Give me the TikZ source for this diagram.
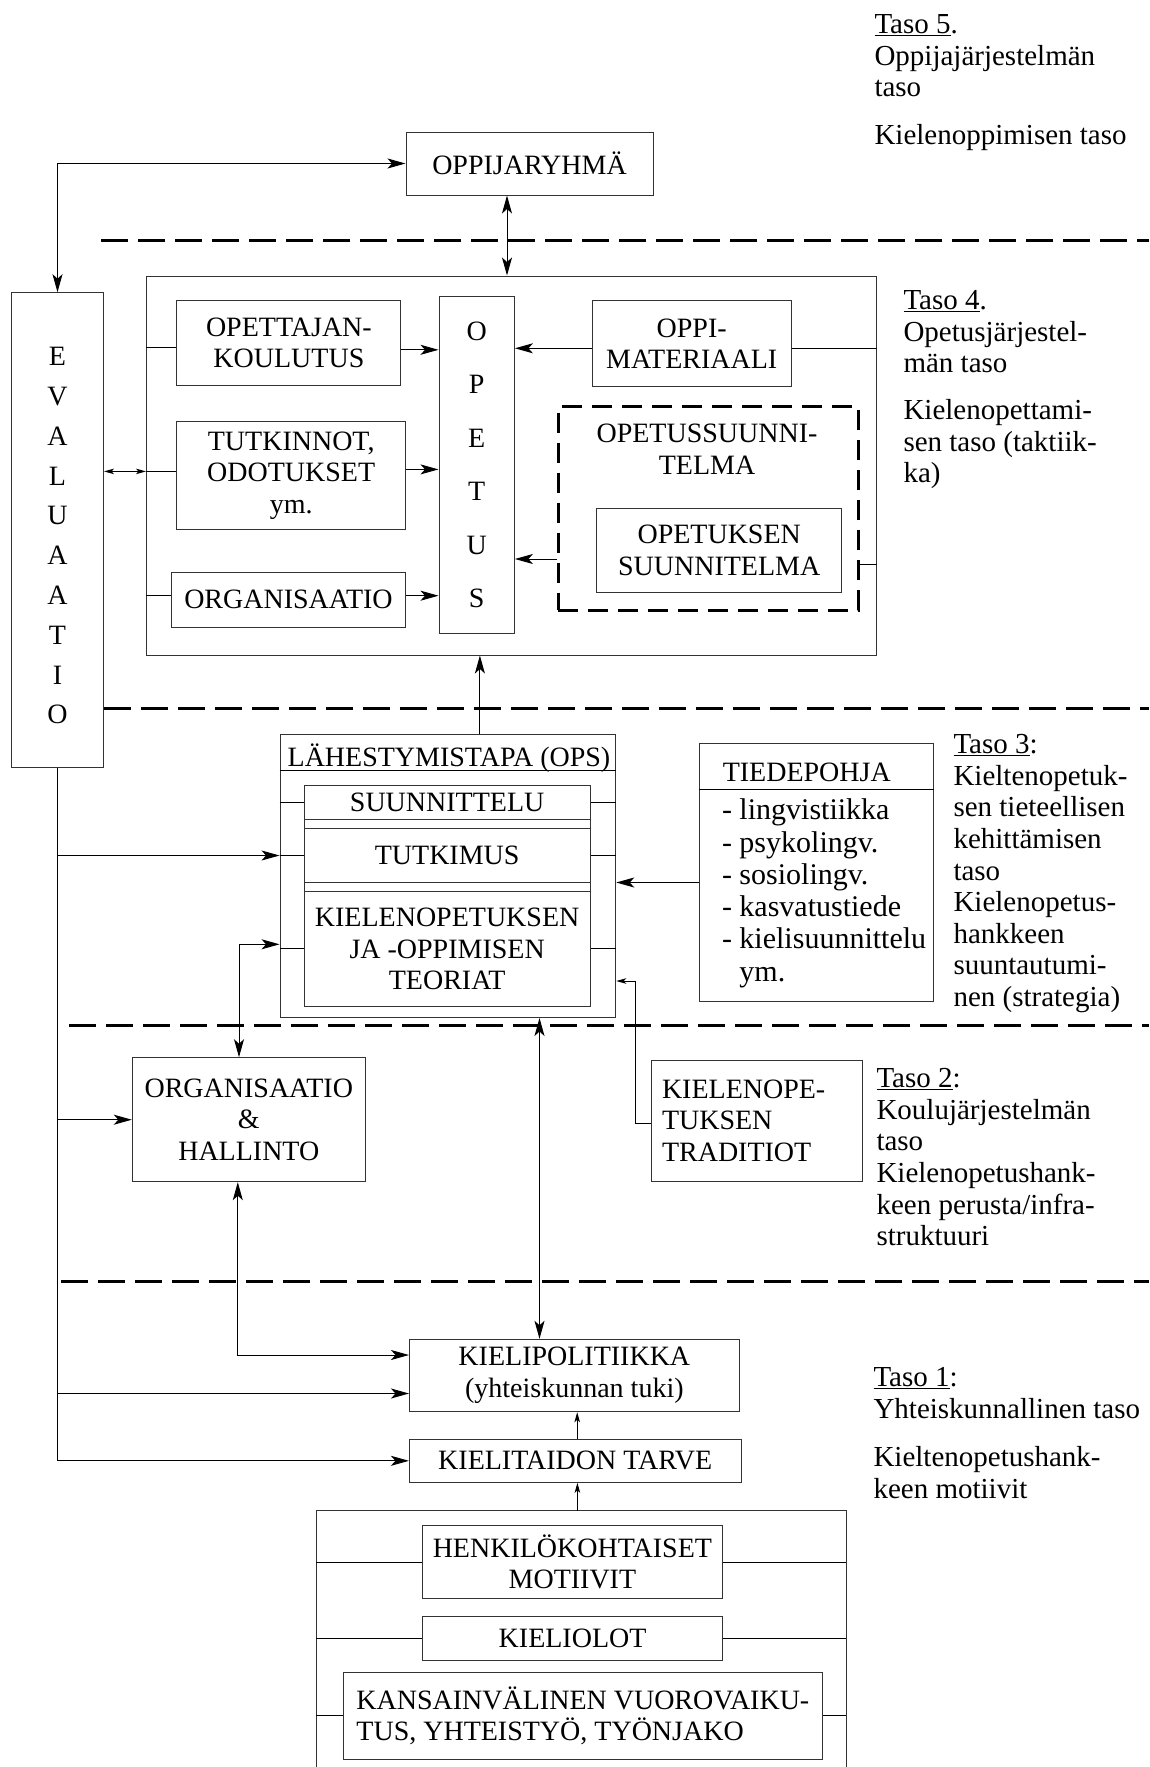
\documentclass[tikz,border=0pt]{standalone}
\usepackage{fontspec}
\setmainfont{Liberation Serif}
\usetikzlibrary{arrows.meta}
\tikzset{>={Stealth[length=18pt,width=10pt,inset=4.5pt]}}
\tikzset{
  box/.style={draw=black!80, align=center, inner sep=0pt},
  dashbox/.style={draw=black, line width=3pt, dash pattern=on 20pt off 10pt, inner sep=0pt},
  small tip/.style={>={Stealth[length=10pt,width=5.5pt,inset=2.5pt]}},
  layer/.style={line width=3pt, dash pattern=on 27pt off 10pt},
  tasotext/.style={anchor=north west, align=left, inner sep=0pt, font=\fontsize{29pt}{31.6pt}\selectfont}
}

\begin{document}
\begin{tikzpicture}[x=1pt, y=-1pt, line width=1pt, font=\fontsize{28pt}{31.6pt}\selectfont]
\useasboundingbox (0,0) rectangle (1149,1767);

% level separators
\foreach \xa/\ya in {101/240, 103.5/708.5, 69/1025, 61/1281}
  \draw[layer] (\xa,\ya) -- (1149,\ya);

% taso 5
\node[box, minimum width=247pt, minimum height=63pt] (ryhma) at (529.5,163.5) {OPPIJARYHMÄ};
\node[box, minimum width=92pt, minimum height=475pt] (eval) at (57.5,530.2) {};
\node[align=center, inner sep=0pt, font=\fontsize{28pt}{39.8pt}\selectfont] (evaltext) at ([yshift=-5.6pt]eval.center) {E\\V\\A\\L\\U\\A\\A\\T\\I\\O};

% taso 4
\node[box, minimum width=729.5pt, minimum height=379pt] (taso4box) at (511.25,465.5) {};
\node[box, minimum width=224pt, minimum height=85pt] (koulutus) at (288.9,342.8) {OPETTAJAN-\\KOULUTUS};
\node[box, minimum width=228.7pt, minimum height=108pt] (tutkinnot) at (291.2,475.4) {TUTKINNOT,\\ODOTUKSET\\ym.};
\node[box, minimum width=234.3pt, minimum height=55.3pt] (organ) at (288.5,599.7) {ORGANISAATIO};
\node[box, minimum width=75.4pt, minimum height=336.6pt, font=\fontsize{28pt}{53.5pt}\selectfont] (opetus) at (476.7,465) {O\\P\\E\\T\\U\\S};
\node[box, minimum width=198.7pt, minimum height=86pt] (materiaali) at (691.7,343.7) {OPPI-\\MATERIAALI};
\node[dashbox, minimum width=300.4pt, minimum height=203.3pt] (ops) at (708.2,508.4) {};
\node[align=center, inner sep=0pt] (opstitle) at (707,449) {OPETUSSUUNNI-\\TELMA};
\node[box, minimum width=245.5pt, minimum height=84.4pt] (opsuunn) at (719.2,550.5) {OPETUKSEN\\SUUNNITELMA};

% taso 3
\node[box, minimum width=335.7pt, minimum height=283.5pt] (lahest) at (447.9,875.75) {};
\node[anchor=base, inner sep=0pt] (lahtitle) at (449,766) {LÄHESTYMISTAPA (OPS)};
\draw ([yshift=-37pt]lahest.north west) -- ([yshift=-37pt]lahest.north east);
\node[box, minimum width=285.7pt, minimum height=221.2pt] (lahinner) at (447.15,895.9) {};
\node[box, minimum width=285.7pt, minimum height=34pt] (suunn) at (447.15,802.3) {SUUNNITTELU};
\node[box, minimum width=285.7pt, minimum height=53.6pt] (tutkimus) at (447.15,855.5) {TUTKIMUS};
\node[box, minimum width=285.7pt, minimum height=115.2pt] (teoriat) at (447.15,948.9) {KIELENOPETUKSEN\\JA -OPPIMISEN\\TEORIAT};

\node[box, minimum width=233.6pt, minimum height=257.7pt] (tiede) at (816.2,872.2) {};
\node[anchor=base west, inner sep=0pt] (tiedetitle) at (722.3,781.7) {TIEDEPOHJA};
\draw ([yshift=-46.7pt]tiede.north west) -- ([yshift=-46.7pt]tiede.north east);
\node[tasotext, font=\fontsize{30pt}{32.3pt}\selectfont] (tiedelist) at (721.5,798.4)
  {- lingvistiikka\\- psykolingv.\\- sosiolingv.\\- kasvatustiede\\- kielisuunnittelu\\\phantom{- }ym.};

% taso 2
\node[box, minimum width=233pt, minimum height=124pt] (orghal) at (248.8,1119.7) {ORGANISAATIO\\\&\\HALLINTO};
\node[box, text width=190pt, align=left, inner xsep=10.7pt, minimum height=121.7pt] (traditiot) at (757,1120.85) {KIELENOPE-\\TUKSEN\\TRADITIOT};

% taso 1
\node[box, minimum width=329.7pt, minimum height=72.4pt] (kielipol) at (574.35,1375.5) {KIELIPOLITIIKKA\\(yhteiskunnan tuki)};
\node[box, minimum width=331.6pt, minimum height=43pt] (tarve) at (575.2,1460.8) {KIELITAIDON TARVE};
\coordinate (motnw) at (316.4,1510.7);
\coordinate (motne) at (846.4,1510.7);
\coordinate (mottop) at (577.4,1510.7);
\draw[black!80] (316.4,1767) -- (motnw) -- (motne) -- (846.4,1767);
\node[box, minimum width=300.8pt, minimum height=72.6pt] (henk) at (572.4,1562) {HENKILÖKOHTAISET\\MOTIIVIT};
\node[box, minimum width=300.4pt, minimum height=44pt] (kieliolot) at (572.6,1638.7) {KIELIOLOT};
\node[box, align=left, minimum width=479.6pt, minimum height=86.3pt] (kansainv) at (582.9,1715.9) {KANSAINVÄLINEN VUOROVAIKU-\\TUS, YHTEISTYÖ, TYÖNJAKO};

% level texts
\node[tasotext] (t5a) at (874,14) {\underline{Taso 5}.\\Oppijajärjestelmän\\taso};
\node[tasotext] (t5b) at (874,124) {Kielenoppimisen taso};
\node[tasotext] (t4a) at (903,290) {\underline{Taso 4}.\\Opetusjärjestel-\\män taso};
\node[tasotext] (t4b) at (903,399) {Kielenopettami-\\sen taso (taktiik-\\ka)};
\node[tasotext] (t3) at (953,734) {\underline{Taso 3}:\\Kieltenopetuk-\\sen tieteellisen\\kehittämisen\\taso\\Kielenopetus-\\hankkeen\\suuntautumi-\\nen (strategia)};
\node[tasotext] (t2) at (876,1068) {\underline{Taso 2}:\\Koulujärjestelmän\\taso\\Kielenopetushank-\\keen perusta/infra-\\struktuuri};
\node[tasotext] (t1a) at (873,1367) {\underline{Taso 1}:\\Yhteiskunnallinen taso};
\node[tasotext] (t1b) at (873,1446) {Kieltenopetushank-\\keen motiivit};

% connectors, taso 5 and 4
\draw[<->] (eval.north) |- (ryhma.west);
\path ([xshift=-22.5pt]ryhma.south) coordinate (r1);
\draw[<->] (r1) -- (r1 |- taso4box.north);
\path ([yshift=4pt]tutkinnot.west) coordinate (t1);
\draw[<->, small tip] (eval.east |- t1) -- (t1 -| taso4box.west);
\draw (t1 -| taso4box.west) -- (t1);
\path ([yshift=6pt]tutkinnot.east) coordinate (t2);
\draw[->] (t2) -- (t2 -| opetus.west);
\path ([yshift=-4.5pt]koulutus.west) coordinate (k1);
\draw (k1 -| taso4box.west) -- (k1);
\path ([yshift=-7pt]koulutus.east) coordinate (k2);
\draw[->] (k2) -- (k2 -| opetus.west);
\path ([yshift=4pt]organ.west) coordinate (o1);
\draw (o1 -| taso4box.west) -- (o1);
\path ([yshift=4pt]organ.east) coordinate (o2);
\draw[->] (o2) -- (o2 -| opetus.west);
\path ([yshift=-4.6pt]materiaali.west) coordinate (m1);
\draw[->] (m1) -- (m1 -| opetus.east);
\draw (m1 -| materiaali.east) -- (m1 -| taso4box.east);
\path ([yshift=-8.5pt]opsuunn.west) coordinate (p1);
\draw[->] (p1 -| ops.west) -- (p1 -| opetus.east);
\path ([yshift=-13.5pt]opsuunn.east) coordinate (p2);
\draw (p2 -| ops.east) -- (p2 -| taso4box.east);

% connectors, taso 3
\path ([xshift=32pt]lahest.north) coordinate (l1);
\draw[->] (l1) -- (l1 |- taso4box.south);
\foreach \row in {suunn, tutkimus, teoriat} {
  \draw (lahest.west |- \row.west) -- (\row.west);
  \draw (\row.east) -- (lahest.east |- \row.east);
}
\path ([yshift=-10.3pt]tiede.west) coordinate (ti1);
\draw[->] (ti1) -- (ti1 -| lahest.east);
\path ([yshift=-3pt]traditiot.west) coordinate (tr1);
\path ([yshift=-105.25pt]lahest.east) coordinate (tr2);
\draw[->, small tip] (tr1) -- ++(-15pt,0) |- (tr2);

% evaluaatio line
\draw[->] (eval.south) |- (tarve.west);
\draw[->] (eval.south |- tutkimus.west) -- (lahest.west |- tutkimus.west);
\draw[->] (eval.south |- orghal.west) -- (orghal.west);
\path ([yshift=-18pt]kielipol.west) coordinate (kp1);
\draw[->] (eval.south |- kp1) -- (kp1);

% connectors, taso 2 and 1
\path ([xshift=-9.8pt]orghal.north) coordinate (oh1);
\path ([yshift=4.6pt]teoriat.west) coordinate (te1);
\draw[<->] (oh1) |- (lahest.west |- te1);
\path ([xshift=-11pt]orghal.south) coordinate (oh2);
\path ([yshift=20.5pt]kielipol.west) coordinate (kp2);
\draw[<->] (oh2) |- (kp2);
\path ([xshift=91.6pt]lahest.south) coordinate (l2);
\draw[<->] (l2) -- (l2 |- kielipol.north);
\path ([xshift=2pt]tarve.north) coordinate (ta1);
\draw[->, small tip] (ta1) -- (ta1 |- kielipol.south);
\draw[->, small tip] (mottop) -- (mottop |- tarve.south);
\foreach \row in {henk, kieliolot, kansainv} {
  \draw (motnw |- \row.west) -- (\row.west);
  \draw (\row.east) -- (motne |- \row.east);
}
\end{tikzpicture}
\end{document}
